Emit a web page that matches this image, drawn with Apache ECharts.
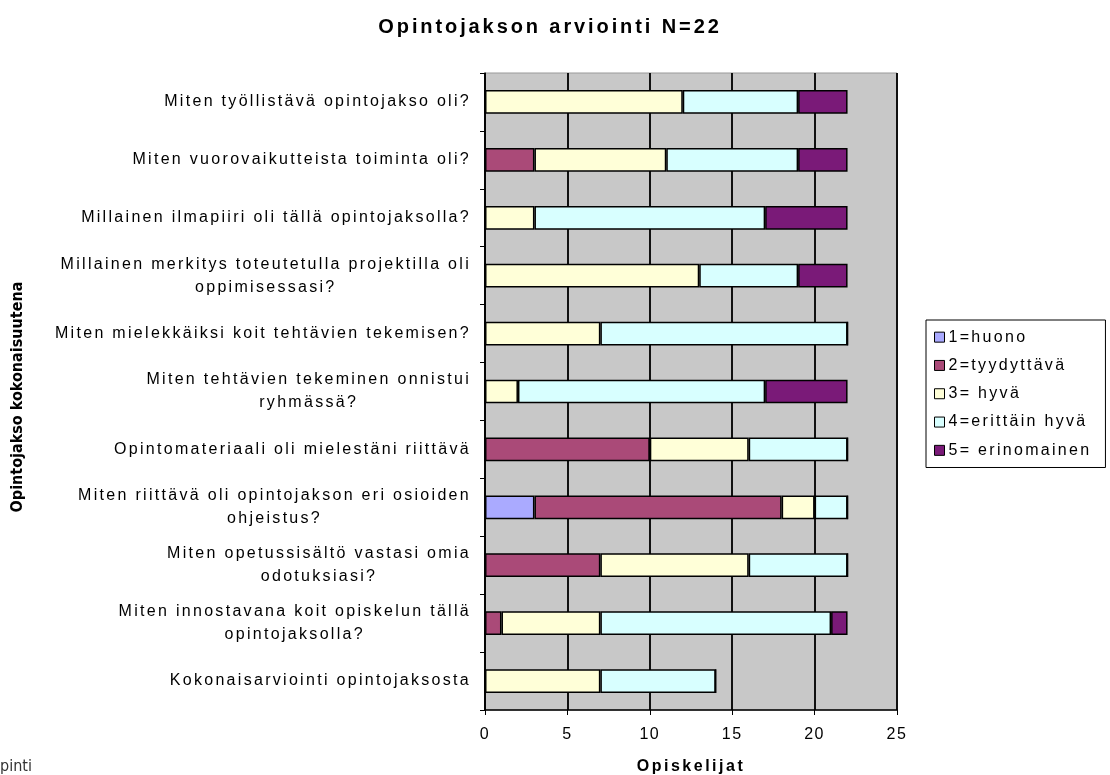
<!DOCTYPE html>
<html><head><meta charset="utf-8">
<script src="https://cdn.jsdelivr.net/npm/echarts@6/dist/echarts.min.js"></script>
<style>html,body{margin:0;padding:0;background:#fff}#c{width:1110px;height:775px}</style>
</head><body><div id="c"></div>
<script>
const categories = [
  "Miten työllistävä opintojakso oli?",
  "Miten vuorovaikutteista toiminta oli?",
  "Millainen ilmapiiri oli tällä opintojaksolla?",
  "Millainen merkitys toteutetulla projektilla oli\noppimisessasi?",
  "Miten mielekkäiksi koit tehtävien tekemisen?",
  "Miten tehtävien tekeminen onnistui\nryhmässä?",
  "Opintomateriaali oli mielestäni riittävä",
  "Miten riittävä oli opintojakson eri osioiden\nohjeistus?",
  "Miten opetussisältö vastasi omia\nodotuksiasi?",
  "Miten innostavana koit opiskelun tällä\nopintojaksolla?",
  "Kokonaisarviointi opintojaksosta"
];
const seriesNames = ["1=huono", "2=tyydyttävä", "3= hyvä", "4=erittäin hyvä", "5= erinomainen"];
const huono       = [0, 0, 0, 0, 0, 0, 0, 3, 0, 0, 0];
const tyydyttava  = [0, 3, 0, 0, 0, 0, 10, 15, 7, 1, 0];
const hyva        = [12, 8, 3, 13, 7, 2, 6, 2, 9, 6, 7];
const erittainHyva= [7, 8, 14, 6, 15, 15, 6, 2, 6, 14, 7];
const erinomainen = [3, 3, 5, 3, 0, 5, 0, 0, 0, 1, 0];
const xTicks = [0, 5, 10, 15, 20, 25];
const colors = ["#aaaaff", "#aa4a78", "#ffffd8", "#d8ffff", "#7a1a78"];

// Letter spacing: a font family tag "lsNN" means NN/10 px of letter spacing.
(function () {
  const d = Object.getOwnPropertyDescriptor(CanvasRenderingContext2D.prototype, 'font');
  if (!d || !('letterSpacing' in CanvasRenderingContext2D.prototype)) return;
  Object.defineProperty(CanvasRenderingContext2D.prototype, 'font', {
    configurable: true,
    get: d.get,
    set: function (v) {
      const m = /ls(\d+)/.exec(v);
      this.letterSpacing = m ? (parseInt(m[1], 10) / 10) + 'px' : '0px';
      d.set.call(this, v);
    }
  });
})();

const SP = '"Liberation Sans", Arial, ls23';
const dataSets = [huono, tyydyttava, hyva, erittainHyva, erinomainen];
const chart = echarts.init(document.getElementById('c'));
chart.setOption({
  animation: false,
  title: {
    text: "Opintojakson arviointi N=22",
    left: 545, top: 11, textAlign: 'center',
    textStyle: {fontFamily: '"Liberation Sans", Arial, ls29', fontWeight: 'bold', fontSize: 20, color: '#000'}
  },
  legend: {
    orient: 'vertical', left: 926, top: 320,
    itemWidth: 10, itemHeight: 10, itemGap: 10,
    padding: [8, 14, 8, 8],
    borderColor: '#000', borderWidth: 1,
    icon: 'rect',
    textStyle: {fontFamily: SP, fontSize: 16, color: '#000', padding: [0, 0, 0, -1]},
    data: seriesNames.map((n) => ({name: n, itemStyle: {borderColor: '#000', borderWidth: 1}}))
  },
  grid: {
    left: 485, top: 73, width: 412, height: 637,
    outerBoundsMode: 'none', containLabel: false,
    show: true, backgroundColor: '#c8c8c8', borderColor: '#999', borderWidth: 1
  },
  xAxis: {
    type: 'value', min: 0, max: 25, interval: 5,
    name: 'Opiskelijat', nameLocation: 'middle', nameGap: 47,
    nameTextStyle: {fontFamily: '"Liberation Sans", Arial, ls25', fontWeight: 'bold', fontSize: 16, color: '#000'},
    axisLine: {show: true, lineStyle: {color: '#000', width: 1.5}},
    axisTick: {show: true, length: 5, lineStyle: {color: '#000'}},
    axisLabel: {fontFamily: '"Liberation Sans", Arial, ls15', fontSize: 16, color: '#000', margin: 16,
      formatter: v => xTicks.includes(v) ? String(v) : ''},
    splitLine: {show: true, lineStyle: {color: '#111', width: 2}}
  },
  yAxis: {
    type: 'category', data: categories, inverse: true,
    axisLine: {show: true, lineStyle: {color: '#000', width: 1.5}},
    axisTick: {show: true, length: 5, inside: false, lineStyle: {color: '#000'}},
    axisLabel: {
      fontFamily: SP, fontSize: 16, color: '#000', margin: 14, lineHeight: 23, align: 'right',
      formatter: v => v.split('\n').map(l => '{c|' + l + '}').join('\n'),
      rich: {c: {align: 'center', fontFamily: SP, fontSize: 16, color: '#000', lineHeight: 23}}
    },
    splitLine: {show: false}
  },
  series: dataSets.map((d, i) => ({
    name: seriesNames[i], type: 'bar', stack: 'total', data: d,
    barWidth: '41%',
    itemStyle: {color: colors[i], borderColor: '#000', borderWidth: 1.5}
  })),
  graphic: [{
    type: 'text', x: 18, y: 397, rotation: Math.PI / 2,
    style: {text: 'Opintojakso kokonaisuutena', align: 'center', verticalAlign: 'middle',
      font: 'bold 16px "DejaVu Sans Condensed", "Liberation Sans", sans-serif', fill: '#000'}
  }, {
    type: 'text', left: 0, top: 759,
    style: {text: 'pinti', font: '16px "DejaVu Sans Condensed", sans-serif', fill: '#333'}
  }]
});
</script></body></html>
